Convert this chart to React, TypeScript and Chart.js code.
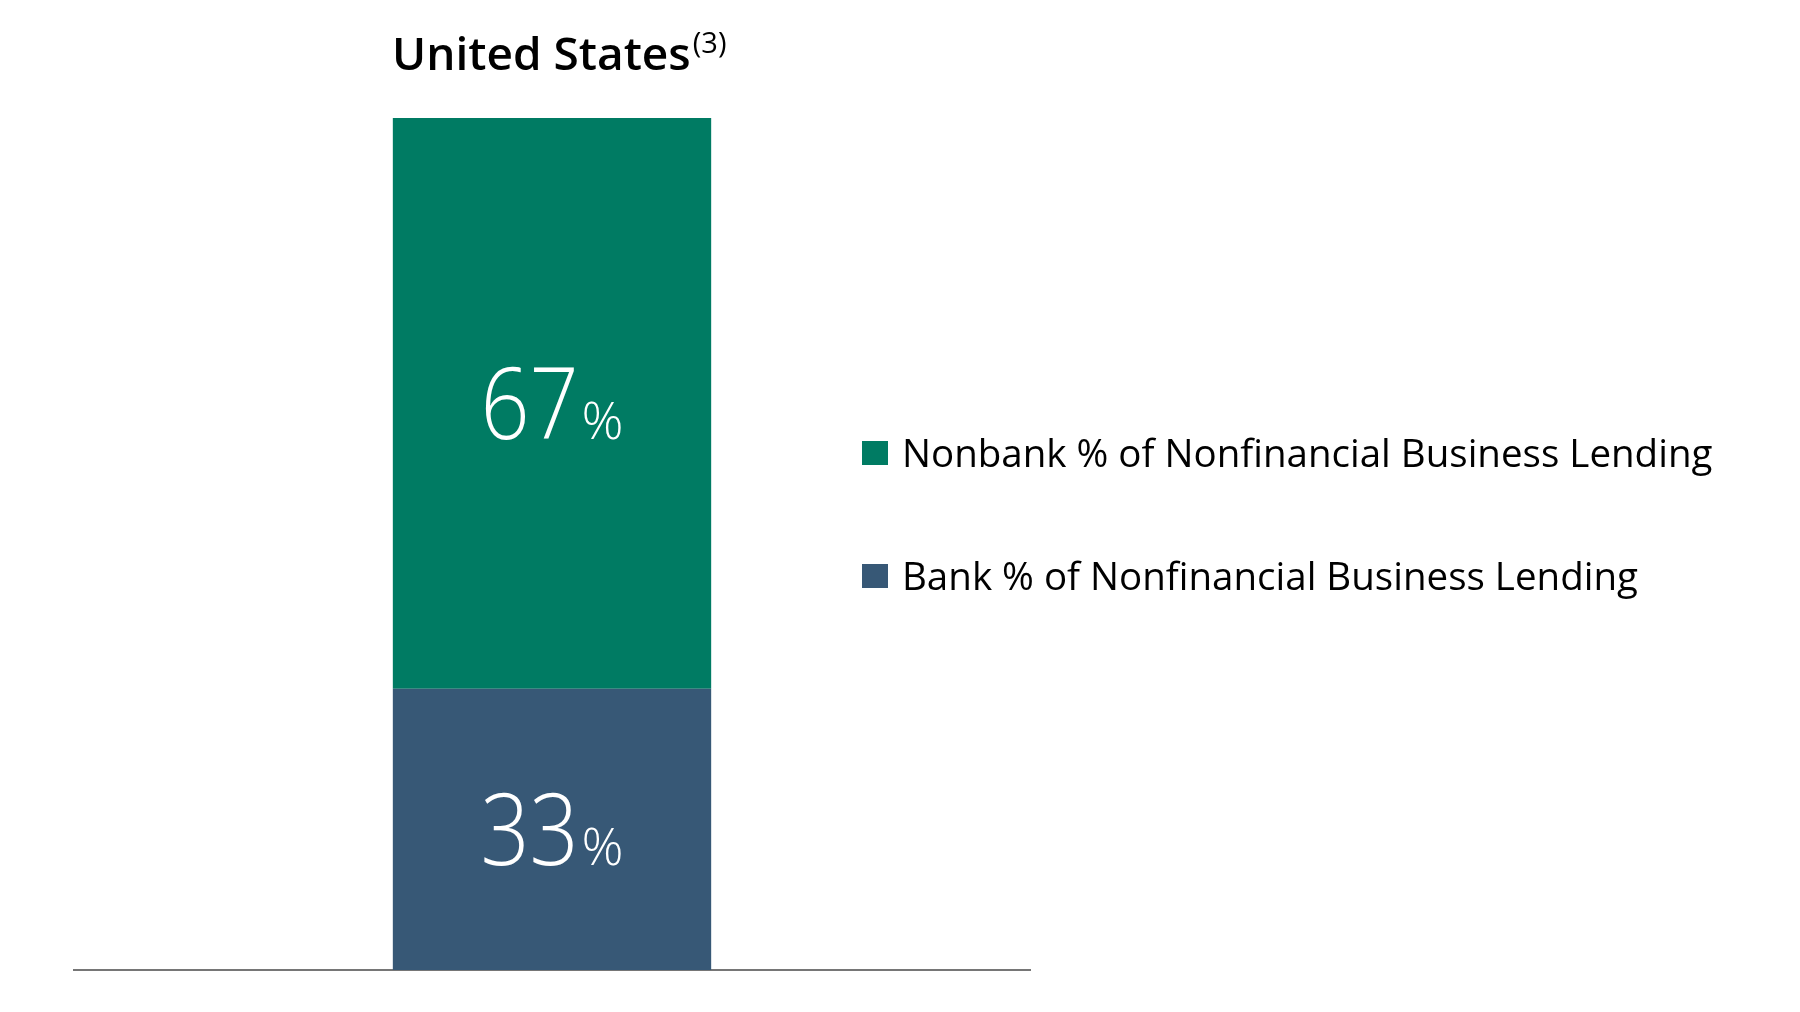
import React, { useEffect, useRef } from 'react';
import { Chart, registerables } from 'chart.js';

Chart.register(...registerables);

// Data
const categories = ['United States'];
const seriesNames = [
  'Bank % of Nonfinancial Business Lending',
  'Nonbank % of Nonfinancial Business Lending',
];
const bankValues = [33];
const nonbankValues = [67];
const seriesColors = ['#375876', '#007B63'];
const yRange = [0, 100];
const chartTitle = 'United States';
const titleNote = '(3)';

const FONT = '"Open Sans", "Segoe UI", sans-serif';

// draws "67%" style labels centred in each bar segment
const valueLabels = {
  id: 'valueLabels',
  afterDatasetsDraw(chart: any) {
    const ctx = chart.ctx;
    const numSize = 100;
    const pctSize = 52;
    chart.data.datasets.forEach((ds: any, i: number) => {
      const meta = chart.getDatasetMeta(i);
      meta.data.forEach((bar: any, j: number) => {
        const { x, y, base } = bar.getProps(['x', 'y', 'base'], true);
        const value = String(ds.data[j]);
        const cy = (y + base) / 2;
        ctx.save();
        ctx.fillStyle = '#ffffff';
        ctx.textBaseline = 'alphabetic';
        ctx.textAlign = 'left';
        // Segoe UI Light is narrower than Open Sans Light, so squeeze the digits a bit
        const squeeze = 0.86;
        ctx.font = `300 ${numSize}px ${FONT}`;
        const w1 = ctx.measureText(value).width * squeeze;
        ctx.font = `300 ${pctSize}px ${FONT}`;
        const w2 = ctx.measureText('%').width;
        const gap = 3;
        const left = x - (w1 + gap + w2) / 2;
        const baseline = cy + (0.714 * numSize) / 2;
        ctx.save();
        ctx.translate(left, baseline);
        ctx.scale(squeeze, 1);
        ctx.font = `300 ${numSize}px ${FONT}`;
        ctx.fillText(value, 0, 0);
        ctx.restore();
        ctx.font = `300 ${pctSize}px ${FONT}`;
        ctx.fillText('%', left + w1 + gap, baseline);
        ctx.restore();
      });
    });
  },
};

const App: React.FC = () => {
  const chartRef = useRef<HTMLCanvasElement | null>(null);
  const chartInstance = useRef<Chart | null>(null);

  useEffect(() => {
    if (!chartRef.current) return;
    const ctx = chartRef.current.getContext('2d');
    if (!ctx) return;

    if (chartInstance.current) {
      chartInstance.current.destroy();
    }

    chartInstance.current = new Chart(ctx, {
      type: 'bar',
      data: {
        labels: categories,
        datasets: [
          {
            label: seriesNames[0],
            data: bankValues,
            backgroundColor: seriesColors[0],
            borderWidth: 0,
          },
          {
            label: seriesNames[1],
            data: nonbankValues,
            backgroundColor: seriesColors[1],
            borderWidth: 0,
          },
        ],
      },
      options: {
        animation: false,
        responsive: true,
        maintainAspectRatio: false,
        devicePixelRatio: 1,
        layout: {
          padding: { left: 74, right: 770, top: 118, bottom: 42 },
        },
        datasets: {
          bar: {
            categoryPercentage: 1,
            barPercentage: 0.333,
          },
        },
        plugins: {
          legend: { display: false },
          title: { display: false },
          tooltip: { enabled: false },
        },
        scales: {
          x: {
            stacked: true,
            grid: { display: false, drawTicks: false },
            ticks: { display: false },
            border: { display: true, color: '#767676', width: 2 },
          },
          y: {
            stacked: true,
            display: false,
            min: yRange[0],
            max: yRange[1],
          },
        },
      },
      plugins: [valueLabels],
    });

    return () => {
      if (chartInstance.current) {
        chartInstance.current.destroy();
        chartInstance.current = null;
      }
    };
  }, []);

  // legend lists Nonbank first, then Bank
  const legendOrder = [1, 0];
  const legendBaselines = [467, 590];
  const legendSize = 38.5;

  return (
    <div
      style={{
        position: 'absolute',
        left: 0,
        top: 0,
        width: 1800,
        height: 1012,
        background: '#ffffff',
        fontFamily: FONT,
      }}
    >
      <div style={{ position: 'absolute', left: 0, top: 0, width: 1800, height: 1012 }}>
        <canvas ref={chartRef}></canvas>
      </div>
      <div
        style={{
          position: 'absolute',
          left: 392,
          top: 29,
          fontSize: 46,
          lineHeight: '46px',
          fontWeight: 600,
          color: '#000000',
          whiteSpace: 'nowrap',
        }}
      >
        {chartTitle}
        <span
          style={{
            fontSize: 29,
            fontWeight: 400,
            position: 'relative',
            top: -17,
            marginLeft: 2,
          }}
        >
          {titleNote}
        </span>
      </div>
      {legendOrder.map((idx, row) => (
        <React.Fragment key={idx}>
          <div
            style={{
              position: 'absolute',
              left: 862,
              top: legendBaselines[row] - 26,
              width: 26,
              height: 24,
              background: seriesColors[idx],
            }}
          />
          <div
            style={{
              position: 'absolute',
              left: 902,
              top: legendBaselines[row] - 0.888 * legendSize,
              fontSize: legendSize,
              lineHeight: `${legendSize}px`,
              color: '#000000',
              whiteSpace: 'nowrap',
            }}
          >
            {seriesNames[idx]}
          </div>
        </React.Fragment>
      ))}
    </div>
  );
};

export default App;
